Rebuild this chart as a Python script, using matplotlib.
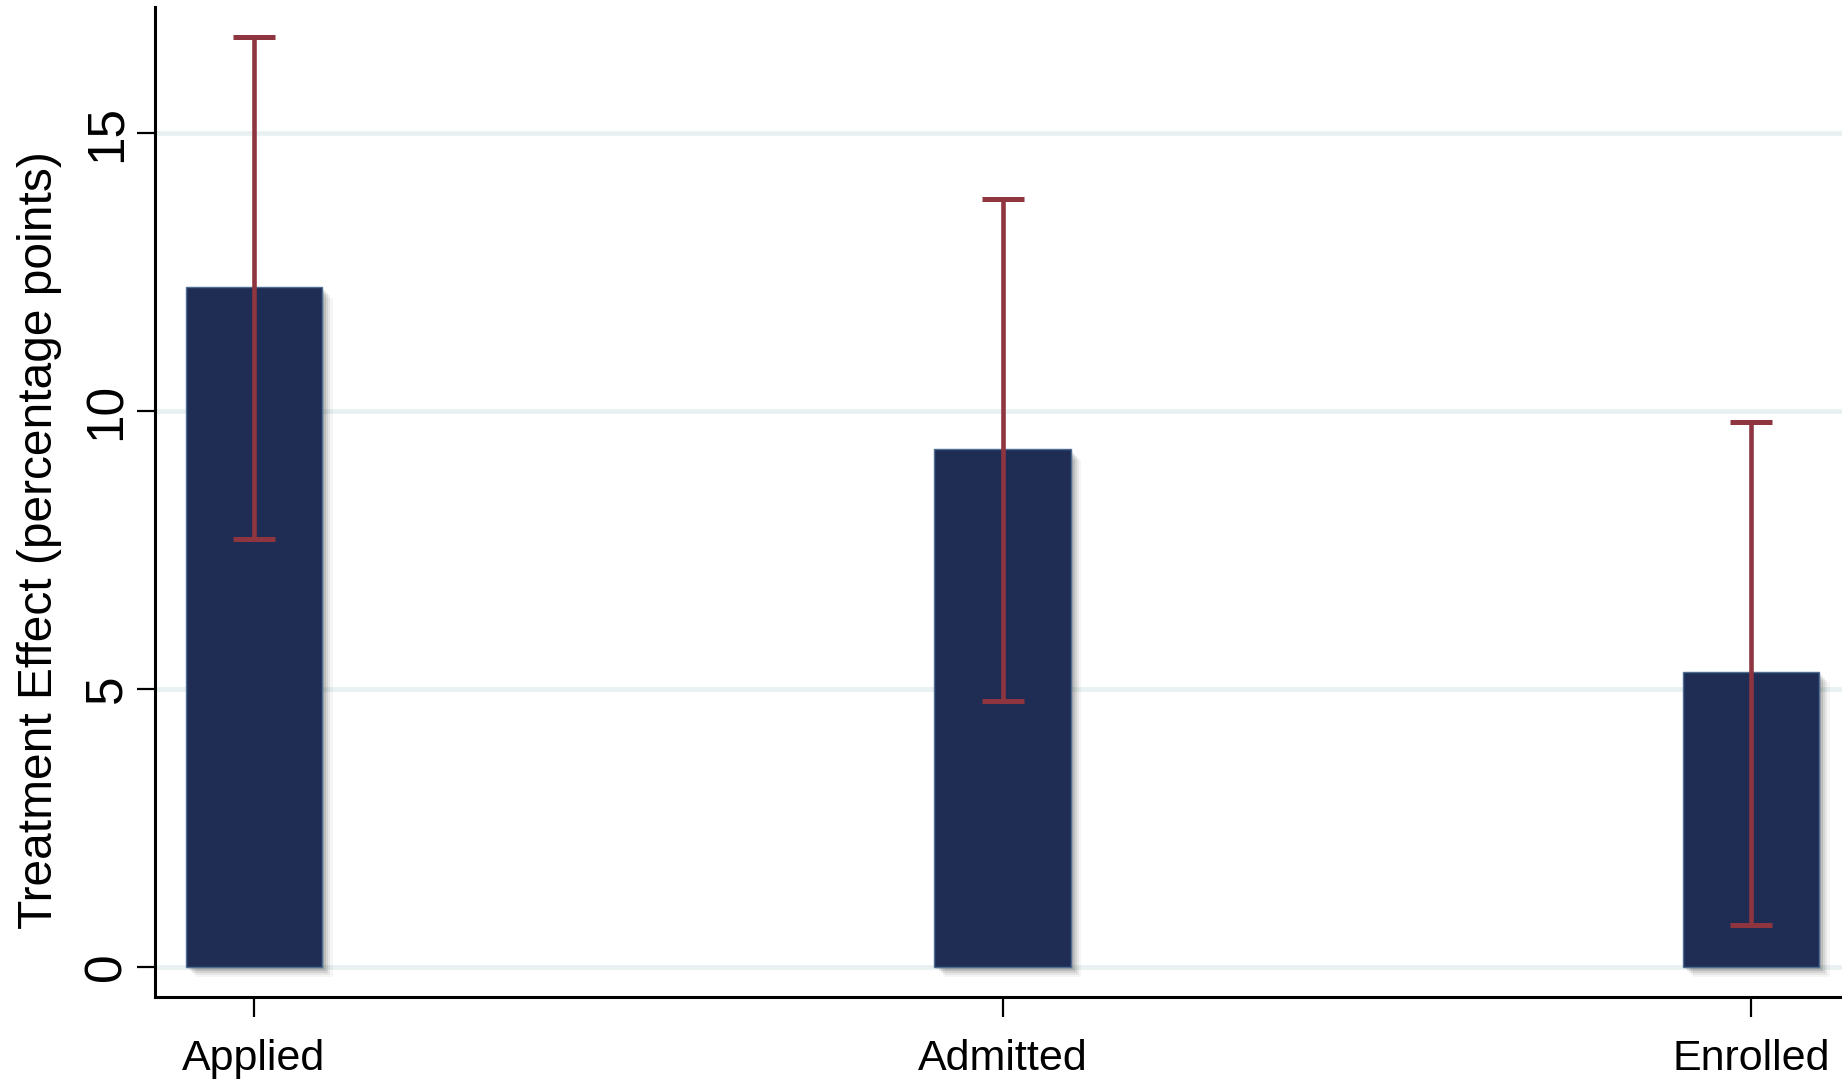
import matplotlib
matplotlib.use("Agg")
import matplotlib.pyplot as plt
import matplotlib.patheffects as pe
import numpy as np

# Estimated treatment effects with confidence bounds
categories = ["Applied", "Admitted", "Enrolled"]
effects = [12.23, 9.31, 5.31]
ci_lower = [7.70, 4.78, 0.76]
ci_upper = [16.73, 13.81, 9.81]
y_ticks = [0, 5, 10, 15]

plt.rcParams["font.family"] = ["Liberation Sans", "DejaVu Sans"]

fig = plt.figure(figsize=(18.42, 10.81), dpi=100)
ax = fig.add_axes([155 / 1842, 1 - 997 / 1081, 1 - 155 / 1842, (997 - 7) / 1081])

x = np.arange(len(categories))
eff = np.array(effects)
lo = np.array(ci_lower)
hi = np.array(ci_upper)

# soft drop shadow under each bar
shadow = [pe.SimplePatchShadow(offset=(o, -o), shadow_rgbFace="#000000", alpha=a)
          for o, a in [(7.5, 0.04), (6.0, 0.06), (4.5, 0.08), (3.0, 0.10), (1.5, 0.10)]]
bars = ax.bar(x, eff, width=0.182, color="#1f2d55", edgecolor="#4f6d93",
              linewidth=1.0, zorder=3)
for b in bars:
    b.set_path_effects(shadow + [pe.Normal()])

ax.errorbar(x, eff, yerr=[eff - lo, hi - eff], fmt="none", ecolor="#8e3540",
            elinewidth=3.3, capsize=15, capthick=3.6, zorder=4)

ax.set_xlim(-0.1323, 2.1216)
ax.set_ylim(-0.54, 17.27)

ax.set_yticks(y_ticks)
ax.set_yticklabels([str(t) for t in y_ticks], rotation=90, va="center", fontsize=37)
ax.set_xticks(x)
ax.set_xticklabels(categories, fontsize=31)

for t in y_ticks:
    ax.axhline(t, color="#e8f0f1", linewidth=3.4, zorder=1)

for s in ["top", "right"]:
    ax.spines[s].set_visible(False)
for s in ["left", "bottom"]:
    ax.spines[s].set_linewidth(2.2)
    ax.spines[s].set_color("black")

ax.tick_params(axis="y", length=13, width=1.6, pad=4)
ax.tick_params(axis="x", length=14.5, width=1.6, pad=16)

fig.text(40 / 1842, 1 - 540 / 1081, "Treatment Effect (percentage points)",
         rotation=90, ha="center", va="center", fontsize=34.5)

fig.savefig("out.png", dpi=100)
